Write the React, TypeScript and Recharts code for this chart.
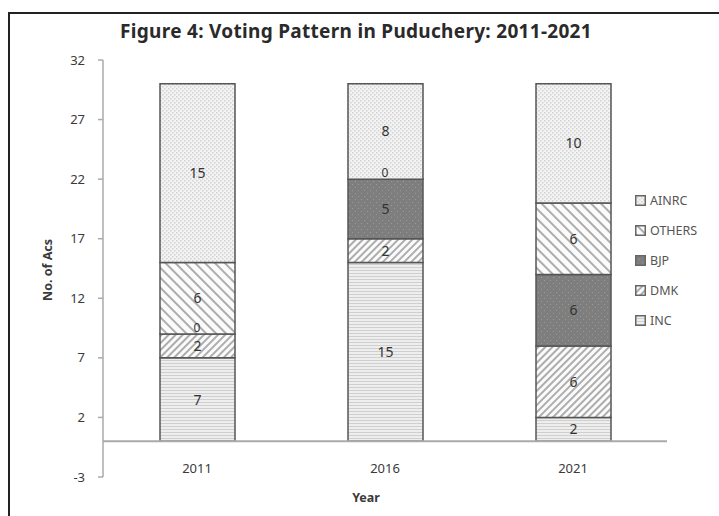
import React from "react";
import { BarChart, Bar, XAxis, YAxis, ReferenceLine, ReferenceDot, LabelList } from "recharts";

const years = ["2011", "2016", "2021"];
const inc = [7, 15, 2];
const dmk = [2, 2, 6];
const bjp = [0, 5, 6];
const others = [6, 0, 6];
const ainrc = [15, 8, 10];
const yTicks = [-3, 2, 7, 12, 17, 22, 27, 32];

// bottom to top stacking order
const series = [
  { key: "INC", values: inc, fill: "url(#pat-inc)" },
  { key: "DMK", values: dmk, fill: "url(#pat-dmk)" },
  { key: "BJP", values: bjp, fill: "url(#pat-bjp)" },
  { key: "OTHERS", values: others, fill: "url(#pat-others)" },
  { key: "AINRC", values: ainrc, fill: "url(#pat-ainrc)" },
];

const data = years.map((year, i) => ({
  year,
  INC: inc[i],
  DMK: dmk[i],
  BJP: bjp[i],
  OTHERS: others[i],
  AINRC: ainrc[i],
}));

// zero-height segments still get their "0" label at the stack boundary
const zeroMarks: { year: string; y: number; key: string }[] = [];
years.forEach((year, i) => {
  let base = 0;
  series.forEach((s) => {
    if (s.values[i] === 0) zeroMarks.push({ year, y: base, key: s.key });
    base += s.values[i];
  });
});

const FONT = "'Noto Sans', 'DejaVu Sans', sans-serif";
const TEXT = "#3a3a3a";

function LegendBox() {
  const items = [...series].reverse();
  return (
    <div style={{ fontFamily: FONT, fontSize: 12.5, color: "#555" }}>
      {items.map((s) => (
        <div key={s.key} style={{ display: "flex", alignItems: "center", height: 30 }}>
          <svg width={11} height={11} style={{ marginRight: 4 }}>
            <rect x={0.75} y={0.75} width={9.5} height={9.5} fill={s.fill} stroke="#666" strokeWidth={1.5} />
          </svg>
          <span>{s.key}</span>
        </div>
      ))}
    </div>
  );
}

function YearTick({ x, y, payload }: any) {
  return (
    <text x={x} y={y} dy={-4} textAnchor="middle" fill={TEXT} fontSize={13} fontFamily={FONT}>
      {payload.value}
    </text>
  );
}

function ZeroText({ cx, cy }: any) {
  return (
    <text x={cx} y={cy} dy={-2} textAnchor="middle" fill="#333" fontSize={12} fontFamily={FONT}>
      0
    </text>
  );
}

export default function App() {
  return (
    <div style={{ position: "fixed", left: 0, top: 0, width: 719, height: 516, background: "#fff" }}>
      <div
        style={{
          position: "absolute",
          left: 8,
          top: 12,
          right: 0,
          bottom: 0,
          borderLeft: "2.5px solid #222",
          borderTop: "2.5px solid #222",
        }}
      />
      <div
        style={{
          position: "absolute",
          left: 0,
          width: 712,
          top: 18,
          textAlign: "center",
          fontFamily: FONT,
          fontWeight: 700,
          fontSize: 19,
          letterSpacing: 0.3,
          color: "#2a2a2a",
        }}
      >
        Figure 4: Voting Pattern in Puduchery: 2011-2021
      </div>
      <div
        style={{
          position: "absolute",
          left: 47,
          top: 270,
          transform: "translate(-50%, -50%) rotate(-90deg)",
          whiteSpace: "nowrap",
          fontFamily: FONT,
          fontWeight: 700,
          fontSize: 12.5,
          color: TEXT,
        }}
      >
        No. of Acs
      </div>
      <div
        style={{
          position: "absolute",
          left: 366,
          top: 497,
          transform: "translate(-50%, -50%)",
          fontFamily: FONT,
          fontWeight: 700,
          fontSize: 12.5,
          color: TEXT,
        }}
      >
        Year
      </div>
      <div style={{ position: "absolute", left: 635, top: 185 }}>
        <LegendBox />
      </div>

      <BarChart
        width={719}
        height={516}
        data={data}
        margin={{ top: 60, right: 52, bottom: 9, left: 0 }}
        style={{ position: "absolute", left: 0, top: 0 }}
      >
        <defs>
          <pattern id="pat-inc" width="4" height="3" patternUnits="userSpaceOnUse">
            <rect width="4" height="3" fill="#eeeeee" />
            <line x1="0" y1="0.5" x2="4" y2="0.5" stroke="#cfcfcf" strokeWidth="1" />
          </pattern>
          <pattern id="pat-dmk" width="5" height="5" patternUnits="userSpaceOnUse" patternTransform="rotate(45)">
            <rect width="5" height="5" fill="#fbfbfb" />
            <line x1="1" y1="0" x2="1" y2="5" stroke="#8c8c8c" strokeWidth="1.4" />
          </pattern>
          <pattern id="pat-others" width="7" height="7" patternUnits="userSpaceOnUse" patternTransform="rotate(-45)">
            <rect width="7" height="7" fill="#fbfbfb" />
            <line x1="1" y1="0" x2="1" y2="7" stroke="#8c8c8c" strokeWidth="1.4" />
          </pattern>
          <pattern id="pat-bjp" width="6" height="6" patternUnits="userSpaceOnUse">
            <rect width="6" height="6" fill="#7e7e7e" />
            <rect x="1" y="1" width="1" height="1" fill="#9a9a9a" />
            <rect x="4" y="4" width="1" height="1" fill="#9a9a9a" />
          </pattern>
          <pattern id="pat-ainrc" width="4" height="4" patternUnits="userSpaceOnUse">
            <rect width="4" height="4" fill="#f3f3f3" />
            <rect x="0" y="0" width="1.5" height="1.5" fill="#d2d2d2" />
            <rect x="2" y="2" width="1.5" height="1.5" fill="#d2d2d2" />
          </pattern>
        </defs>

        <XAxis
          dataKey="year"
          height={30}
          axisLine={false}
          tickLine={false}
          tickSize={0}
          tickMargin={0}
          tick={<YearTick />}
        />
        <YAxis
          width={103}
          type="number"
          domain={[-3, 32]}
          ticks={yTicks}
          interval={0}
          axisLine={{ stroke: "#aaa", strokeWidth: 1.5 }}
          tickLine={{ stroke: "#aaa", strokeWidth: 1.5 }}
          tickSize={5}
          tickMargin={13}
          tick={{ fill: TEXT, fontSize: 13, fontFamily: FONT }}
        />
        <ReferenceLine y={0} stroke="#aaa" strokeWidth={2} />

        {series.map((s) => (
          <Bar
            key={s.key}
            dataKey={s.key}
            stackId="seats"
            fill={s.fill}
            stroke="#555"
            strokeWidth={1.5}
            barSize={75}
            isAnimationActive={false}
          >
            <LabelList
              dataKey={s.key}
              position="center"
              fill="#333"
              fontSize={14}
              fontFamily={FONT}
            />
          </Bar>
        ))}

        {zeroMarks.map((m) => (
          <ReferenceDot
            key={`${m.year}-${m.key}`}
            x={m.year}
            y={m.y}
            r={1}
            shape={<ZeroText />}
          />
        ))}
      </BarChart>
    </div>
  );
}
